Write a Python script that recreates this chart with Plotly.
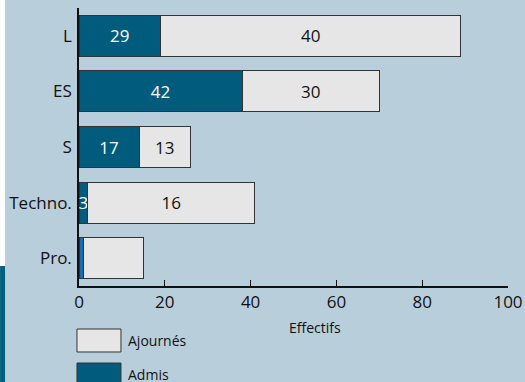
import plotly.graph_objects as go

# data
categories = ["L", "ES", "S", "Techno.", "Pro."]
admis = [19, 38, 14, 2, 1]
ajournes = [70, 32, 12, 39, 14]
admis_labels = ["29", "42", "17", "3", ""]
ajournes_labels = ["40", "30", "13", "16", ""]

bg = "#b9cedb"
teal = "#005b7c"
grey = "#e6e6e6"
font = "Open Sans"

admis_colors = [teal, teal, teal, teal, "#1a6db0"]

fig = go.Figure()
fig.add_trace(go.Bar(
    y=categories, x=admis, orientation="h", name="Admis",
    marker=dict(color=admis_colors, line=dict(color="#333333", width=1)),
    text=admis_labels, textposition="inside", insidetextanchor="middle",
    textfont=dict(color="white", size=17, family=font),
    constraintext="none", cliponaxis=False,
))
fig.add_trace(go.Bar(
    y=categories, x=ajournes, orientation="h", name="Ajournés",
    marker=dict(color=grey, line=dict(color="#333333", width=1)),
    text=ajournes_labels, textposition="inside", insidetextanchor="middle",
    textfont=dict(color="#111111", size=17, family=font),
    constraintext="none", cliponaxis=False,
))

fig.update_layout(
    width=525, height=382,
    barmode="stack", bargap=0.26,
    showlegend=False,
    paper_bgcolor=bg, plot_bgcolor=bg,
    margin=dict(l=79, r=17, t=8, b=96),
    font=dict(family=font, size=17, color="#111111"),
    uniformtext=dict(minsize=17, mode="show"),
    xaxis=dict(range=[0, 100], dtick=20, showgrid=False, zeroline=False,
               showline=True, linecolor="#111111", linewidth=1.5,
               ticks="inside", ticklen=6, tickcolor="#111111",
               tickfont=dict(size=17), automargin=False),
    yaxis=dict(autorange="reversed", showgrid=False, zeroline=False,
               showline=True, linecolor="#111111", linewidth=1.5,
               ticks="", ticklabelstandoff=2, tickfont=dict(size=17),
               automargin=False),
)

# side strip
fig.add_shape(type="rect", xref="paper", yref="paper", x0=-0.184, x1=-0.1724,
              y0=0.0719, y1=-0.35, fillcolor="#00617f", line_width=0, layer="below")
fig.add_shape(type="rect", xref="paper", yref="paper", x0=-0.184, x1=-0.1724,
              y0=1.03, y1=0.0719, fillcolor="white", line_width=0, layer="below")

# legend boxes
fig.add_shape(type="rect", xref="paper", yref="paper", x0=-0.0047, x1=0.0978,
              y0=-0.1547, y1=-0.2374, fillcolor=grey,
              line=dict(color="#333333", width=1))
fig.add_shape(type="rect", xref="paper", yref="paper", x0=-0.0047, x1=0.0978,
              y0=-0.277, y1=-0.36, fillcolor=teal,
              line=dict(color="#333333", width=1))
fig.add_annotation(text="Ajournés", xref="paper", yref="paper", x=0.109, y=-0.196,
                   xanchor="left", yanchor="middle", showarrow=False,
                   font=dict(size=14, family=font, color="#111111"))
fig.add_annotation(text="Admis", xref="paper", yref="paper", x=0.109, y=-0.32,
                   xanchor="left", yanchor="middle", showarrow=False,
                   font=dict(size=14, family=font, color="#111111"))
fig.add_annotation(text="Effectifs", xref="paper", yref="paper", x=0.55, y=-0.148,
                   xanchor="center", yanchor="middle", showarrow=False,
                   font=dict(size=14, family=font, color="#111111"))

fig.write_html("out.html", config={"displayModeBar": False},
               post_script="document.body.style.margin='0';document.body.style.padding='0';document.body.style.overflow='hidden';")
